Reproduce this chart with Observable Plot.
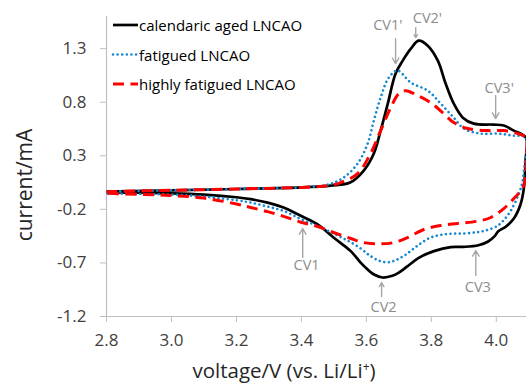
<!DOCTYPE html>
<html>
<head>
<meta charset="utf-8">
<script src="https://cdn.jsdelivr.net/npm/d3@7"></script>
<script src="https://cdn.jsdelivr.net/npm/@observablehq/plot@0.6"></script>
<style>
  html, body { margin: 0; padding: 0; background: #fff; overflow: hidden; }
  svg { display: block; }
</style>
</head>
<body>
<div id="chart"></div>
<script>
// Axis ticks
const xTicks = [2.8, 3.0, 3.2, 3.4, 3.6, 3.8, 4.0];
const yTicks = [-1.2, -0.7, -0.2, 0.3, 0.8, 1.3];

// Series names
const seriesNames = ["calendaric aged LNCAO", "fatigued LNCAO", "highly fatigued LNCAO"];

// Cyclic voltammograms: anodic sweep 2.8 V -> 4.1 V, then cathodic sweep back to 2.8 V
const agedVoltage = [2.80, 3.00, 3.20, 3.40, 3.49, 3.55, 3.592, 3.623, 3.644, 3.666, 3.690, 3.712, 3.737, 3.761, 3.789, 3.820, 3.844, 3.869, 3.897, 3.931, 3.992, 4.023, 4.054, 4.091,
  4.090, 4.085, 4.075, 4.054, 4.030, 4.006, 3.995, 3.975, 3.945, 3.900, 3.860, 3.808, 3.760, 3.725, 3.700, 3.680, 3.650, 3.625, 3.600, 3.583, 3.552, 3.499, 3.450, 3.398, 3.345, 3.296, 3.244, 3.200, 3.100, 3.000, 2.900, 2.800];
const agedCurrent = [-0.035, -0.022, -0.010, 0.005, 0.022, 0.050, 0.162, 0.321, 0.535, 0.787, 1.067, 1.188, 1.300, 1.375, 1.328, 1.188, 0.974, 0.787, 0.656, 0.600, 0.591, 0.582, 0.535, 0.470,
  0.250, 0.000, -0.150, -0.286, -0.360, -0.405, -0.450, -0.500, -0.535, -0.550, -0.552, -0.590, -0.655, -0.735, -0.790, -0.820, -0.836, -0.810, -0.750, -0.700, -0.590, -0.463, -0.340, -0.260, -0.183, -0.137, -0.105, -0.087, -0.062, -0.050, -0.045, -0.040];

const fatiguedVoltage = [2.80, 3.00, 3.20, 3.40, 3.48, 3.530, 3.573, 3.604, 3.623, 3.644, 3.669, 3.696, 3.737, 3.789, 3.829, 3.869, 3.900, 3.952, 4.005, 4.051, 4.091,
  4.088, 4.080, 4.070, 4.045, 4.020, 4.003, 3.970, 3.942, 3.900, 3.849, 3.798, 3.757, 3.720, 3.690, 3.665, 3.640, 3.610, 3.583, 3.542, 3.499, 3.450, 3.398, 3.345, 3.296, 3.244, 3.200, 3.100, 3.000, 2.900, 2.800];
const fatiguedCurrent = [-0.035, -0.022, -0.010, 0.005, 0.030, 0.097, 0.227, 0.414, 0.628, 0.843, 1.030, 1.095, 0.983, 0.908, 0.787, 0.656, 0.554, 0.507, 0.507, 0.488, 0.470,
  0.250, 0.050, -0.050, -0.211, -0.310, -0.355, -0.395, -0.413, -0.425, -0.430, -0.463, -0.540, -0.625, -0.675, -0.694, -0.680, -0.630, -0.566, -0.491, -0.426, -0.355, -0.290, -0.215, -0.174, -0.137, -0.115, -0.081, -0.062, -0.057, -0.053];

const highlyVoltage = [2.80, 3.00, 3.20, 3.40, 3.48, 3.521, 3.573, 3.613, 3.644, 3.675, 3.700, 3.721, 3.758, 3.798, 3.838, 3.869, 3.912, 3.974, 4.023, 4.066, 4.091,
  4.093, 4.090, 4.082, 4.054, 4.023, 3.983, 3.943, 3.881, 3.829, 3.777, 3.727, 3.684, 3.644, 3.592, 3.552, 3.499, 3.450, 3.398, 3.345, 3.296, 3.244, 3.200, 3.100, 3.000, 2.900, 2.800];
const highlyCurrent = [-0.035, -0.022, -0.010, 0.005, 0.020, 0.050, 0.134, 0.321, 0.535, 0.750, 0.880, 0.908, 0.862, 0.796, 0.694, 0.610, 0.554, 0.535, 0.535, 0.507, 0.470,
  0.300, 0.120, 0.003, -0.099, -0.193, -0.276, -0.310, -0.332, -0.351, -0.388, -0.463, -0.510, -0.522, -0.510, -0.472, -0.416, -0.360, -0.320, -0.265, -0.221, -0.183, -0.150, -0.095, -0.071, -0.060, -0.050];

// Peak labels with their arrows (voltage, current)
const peakLabels = ["CV1'", "CV2'", "CV3'", "CV1", "CV2", "CV3"];
const labelVoltage = [3.666, 3.788, 4.009, 3.416, 3.653, 3.943];
const labelCurrent = [1.515, 1.580, 0.927, -0.724, -1.116, -0.929];
const arrowVoltage = [3.690, 3.752, 3.998, 3.404, 3.647, 3.937];
const arrowFrom = [1.393, 1.496, 0.862, -0.650, -1.013, -0.818];
const arrowTo = [1.160, 1.403, 0.647, -0.379, -0.883, -0.584];

const toRows = (vs, is) => vs.map((v, k) => ({v, i: is[k]}));
const aged = toRows(agedVoltage, agedCurrent);
const fatigued = toRows(fatiguedVoltage, fatiguedCurrent);
const highly = toRows(highlyVoltage, highlyCurrent);
const peaks = peakLabels.map((label, k) => ({
  label, lx: labelVoltage[k], ly: labelCurrent[k],
  ax: arrowVoltage[k], a1: arrowFrom[k], a2: arrowTo[k]
}));

const styles = [
  {stroke: "#000000", strokeWidth: 2.7, dash: null, cap: "butt"},
  {stroke: "#1587d3", strokeWidth: 2.6, dash: "0.01 4.6", cap: "round"},
  {stroke: "#ff0000", strokeWidth: 3, dash: "11 6.5", cap: "butt"}
];

const lineOpts = (s) => ({
  x: "v", y: "i", stroke: s.stroke, strokeWidth: s.strokeWidth,
  strokeDasharray: s.dash, strokeLinecap: s.cap, curve: "catmull-rom", clip: true
});

const chart = Plot.plot({
  width: 526,
  height: 385,
  marginLeft: 106,
  marginRight: 0,
  marginTop: 16,
  marginBottom: 69,
  x: {domain: [2.8, 4.093]},
  y: {domain: [-1.2, 1.6]},
  style: {fontFamily: "'Open Sans', sans-serif", background: "#fff"},
  marks: [
    Plot.axisX({ticks: xTicks, tickSize: 6, tickPadding: 11, tickFormat: d => d.toFixed(1),
      stroke: "#bfbfbf", fill: "#404040", fontSize: 17, label: null}),
    Plot.axisY({ticks: yTicks, tickSize: 6, tickPadding: 14, tickFormat: d => d.toFixed(1),
      stroke: "#bfbfbf", fill: "#404040", fontSize: 17, label: null}),
    Plot.ruleX([2.8], {stroke: "#bfbfbf", strokeWidth: 1.2}),
    Plot.ruleY([-1.2], {stroke: "#bfbfbf", strokeWidth: 1.2}),
    Plot.line(aged, lineOpts(styles[0])),
    Plot.line(fatigued, lineOpts(styles[1])),
    Plot.line(highly, lineOpts(styles[2])),
    Plot.arrow(peaks, {x1: "ax", y1: "a1", x2: "ax", y2: "a2", stroke: "#a6a6a6",
      strokeWidth: 1.4, headLength: 7, bend: 0}),
    Plot.text(peaks, {x: "lx", y: "ly", text: "label", fill: "#8c8c8c", fontSize: 14.5})
  ]
});

document.getElementById("chart").appendChild(chart);

// Axis titles and the legend
const svg = d3.select(chart);
svg.append("text")
  .attr("x", 24).attr("y", 185)
  .attr("transform", "rotate(-90 24 185)")
  .attr("text-anchor", "middle").attr("dominant-baseline", "central")
  .attr("fill", "#262626").attr("font-size", 21)
  .text("current/mA");

const xt = svg.append("text")
  .attr("x", 284).attr("y", 378)
  .attr("text-anchor", "middle")
  .attr("fill", "#262626").attr("font-size", 20.5);
xt.append("tspan").text("voltage/V (vs. Li/Li");
xt.append("tspan").attr("font-size", 12).attr("dy", -7).text("+");
xt.append("tspan").attr("dy", 7).text(")");

const legend = svg.append("g");
seriesNames.forEach((name, k) => {
  const y = 25 + k * 29.5;
  const s = styles[k];
  legend.append("line")
    .attr("x1", 113).attr("x2", 138).attr("y1", y).attr("y2", y)
    .attr("stroke", s.stroke).attr("stroke-width", s.strokeWidth)
    .attr("stroke-linecap", s.cap)
    .attr("stroke-dasharray", s.dash);
  legend.append("text")
    .attr("x", 139).attr("y", y)
    .attr("text-anchor", "start").attr("dominant-baseline", "central")
    .attr("fill", "#000").attr("font-size", 15)
    .text(name);
});
</script>
</body>
</html>
